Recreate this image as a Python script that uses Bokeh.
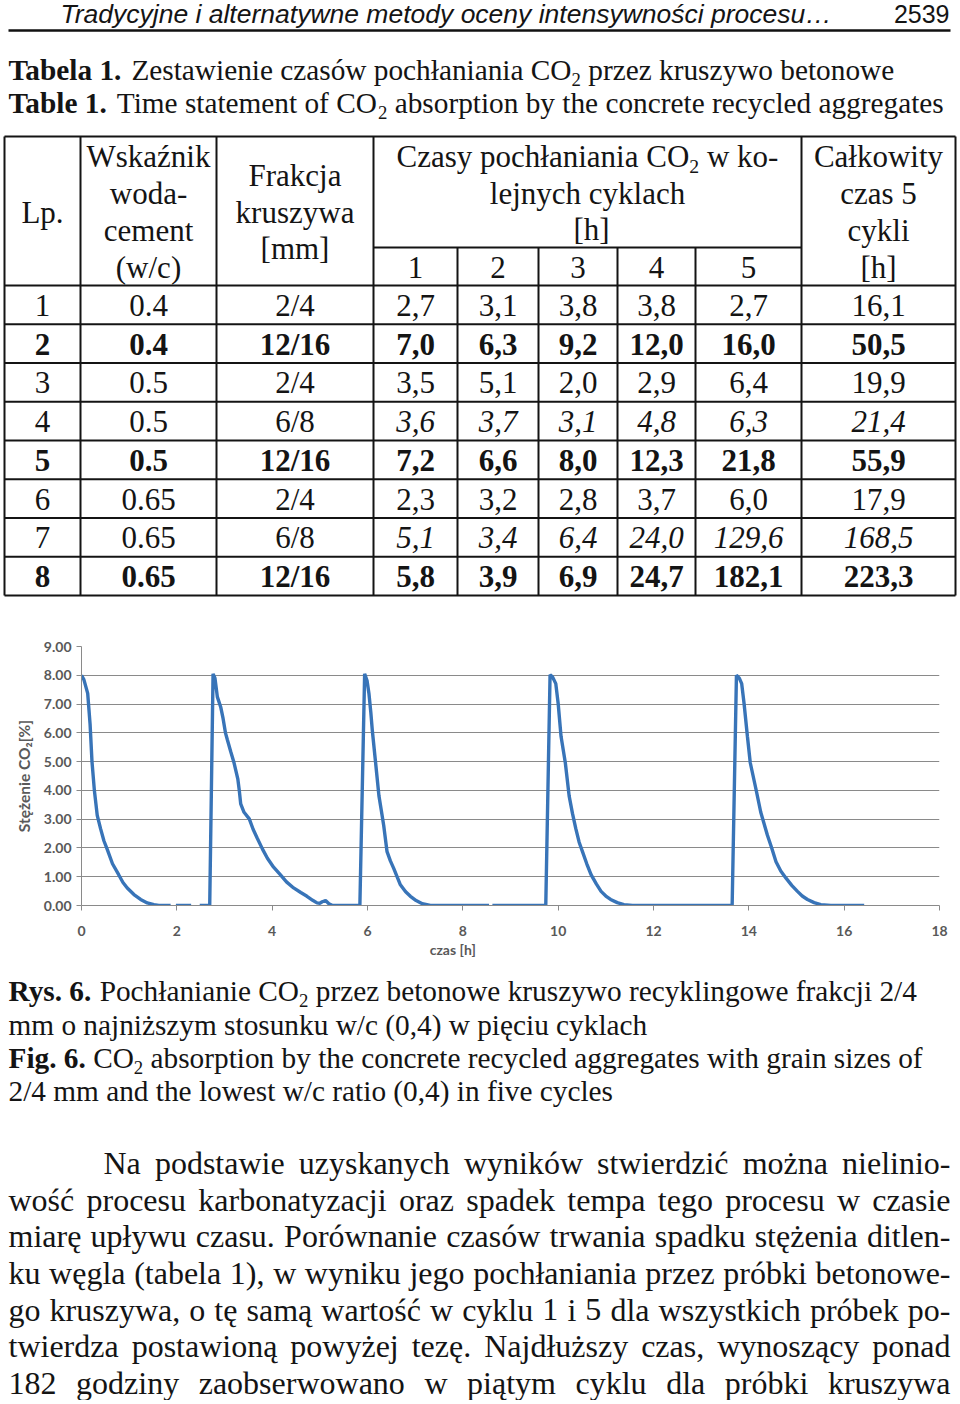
import math
from bokeh.plotting import figure
from bokeh.models import Range1d, FixedTicker, NumeralTickFormatter, ColumnDataSource
from bokeh.layouts import column
from bokeh.embed import file_html
from bokeh.resources import INLINE

NAN = float("nan")

# ---------------- chart data ----------------
time_h = [0.00, 0.05, 0.13, 0.18, 0.22, 0.27, 0.33, 0.40, 0.47, 0.54, 0.65, 0.78, 0.87, 0.96,
          1.10, 1.24, 1.38, 1.52, 1.62, 1.87, NAN, 1.98, 2.30, NAN, 2.48, 2.66, 2.69,
          2.76, 2.80, 2.85, 2.92, 2.97, 3.02, 3.06, 3.13, 3.20, 3.28, 3.31, 3.34, 3.41, 3.52,
          3.60, 3.69, 3.80, 3.90, 4.03, 4.17, 4.30, 4.45, 4.60, 4.73, 4.85, 4.94, 5.00, 5.05,
          5.12, 5.19, 5.27, 5.84,
          5.94, 5.99, 6.03, 6.07, 6.10, 6.17, 6.24, 6.29, 6.34, 6.41, 6.48, 6.55, 6.62, 6.69,
          6.80, 6.90, 7.02, 7.15, 7.32, 8.55, NAN, 8.62, 9.74,
          9.83, 9.88, 9.95, 10.00, 10.06, 10.15, 10.23, 10.30, 10.37, 10.44, 10.51, 10.60,
          10.69, 10.80, 10.90, 11.00, 11.10, 11.24, 11.38, 11.56, 13.65,
          13.74, 13.80, 13.85, 13.90, 13.97, 14.03, 14.09, 14.15, 14.25, 14.39, 14.48, 14.57,
          14.67, 14.78, 14.90, 15.02, 15.12, 15.23, 15.37, 15.51, 15.72, 16.42]
co2_pct = [8.00, 7.85, 7.37, 6.30, 5.00, 4.00, 3.13, 2.67, 2.25, 1.95, 1.45, 1.07, 0.80, 0.61,
           0.38, 0.21, 0.09, 0.03, 0.00, 0.00, NAN, 0.00, 0.00, NAN, 0.00, 0.00, 0.00,
           8.05, 7.90, 7.25, 6.90, 6.50, 6.00, 5.76, 5.35, 4.96, 4.39, 4.00, 3.53, 3.24, 3.01,
           2.65, 2.33, 1.95, 1.64, 1.33, 1.07, 0.82, 0.61, 0.45, 0.32, 0.18, 0.09, 0.08, 0.13,
           0.17, 0.06, 0.00, 0.00,
           8.05, 7.82, 7.37, 6.70, 6.10, 4.96, 3.81, 3.30, 2.78, 1.87, 1.55, 1.29, 1.00, 0.72,
           0.48, 0.32, 0.17, 0.06, 0.00, 0.00, NAN, 0.00, 0.00,
           8.02, 7.95, 7.71, 7.02, 5.88, 4.96, 3.81, 3.20, 2.67, 2.20, 1.87, 1.45,
           1.07, 0.75, 0.49, 0.33, 0.21, 0.10, 0.03, 0.00, 0.00,
           8.00, 7.90, 7.71, 7.02, 5.88, 4.96, 4.50, 4.04, 3.24, 2.44, 2.00, 1.52,
           1.20, 0.95, 0.70, 0.49, 0.33, 0.21, 0.10, 0.03, 0.00, 0.00]
x_ticks = [0, 2, 4, 6, 8, 10, 12, 14, 16, 18]
y_ticks = [0, 1, 2, 3, 4, 5, 6, 7, 8, 9]
x_title = "czas [h]"
y_title = "Stężenie CO₂[%]"

# ---------------- table data ----------------
table_lp = ["1", "2", "3", "4", "5", "6", "7", "8"]
table_wc = ["0.4", "0.4", "0.5", "0.5", "0.5", "0.65", "0.65", "0.65"]
table_frac = ["2/4", "12/16", "2/4", "6/8", "12/16", "2/4", "6/8", "12/16"]
cycle1 = ["2,7", "7,0", "3,5", "3,6", "7,2", "2,3", "5,1", "5,8"]
cycle2 = ["3,1", "6,3", "5,1", "3,7", "6,6", "3,2", "3,4", "3,9"]
cycle3 = ["3,8", "9,2", "2,0", "3,1", "8,0", "2,8", "6,4", "6,9"]
cycle4 = ["3,8", "12,0", "2,9", "4,8", "12,3", "3,7", "24,0", "24,7"]
cycle5 = ["2,7", "16,0", "6,4", "6,3", "21,8", "6,0", "129,6", "182,1"]
total5 = ["16,1", "50,5", "19,9", "21,4", "55,9", "17,9", "168,5", "223,3"]
bold_rows = [1, 4, 7]
italic_rows = [3, 6]

# ---------------- font metrics (Times / Liberation Serif) ----------------
TR = {' ': 250, 'a': 444, 'b': 500, 'c': 444, 'd': 500, 'e': 444, 'f': 333, 'g': 500, 'h': 500,
      'i': 278, 'j': 278, 'k': 500, 'l': 278, 'm': 778, 'n': 500, 'o': 500, 'p': 500, 'q': 500,
      'r': 333, 's': 389, 't': 278, 'u': 500, 'v': 500, 'w': 722, 'x': 500, 'y': 500, 'z': 444,
      'A': 722, 'B': 667, 'C': 667, 'D': 722, 'E': 611, 'F': 556, 'G': 722, 'H': 722, 'I': 333,
      'J': 389, 'K': 722, 'L': 611, 'M': 889, 'N': 722, 'O': 722, 'P': 556, 'Q': 722, 'R': 667,
      'S': 556, 'T': 611, 'U': 722, 'V': 722, 'W': 944, 'X': 722, 'Y': 722, 'Z': 611,
      '.': 250, ',': 250, '-': 333, '(': 333, ')': 333, '/': 278, '[': 333, ']': 333, ':': 278,
      'ą': 444, 'ć': 444, 'ę': 444, 'ł': 278, 'ń': 500, 'ó': 500, 'ś': 389, 'ź': 444, 'ż': 444}
TB = {' ': 250, 'T': 667, 'a': 500, 'b': 556, 'e': 444, 'l': 278, 'R': 722, 'y': 500, 's': 389,
      'F': 611, 'i': 278, 'g': 500, '.': 250}
BASE_SHIFT = 0.33  # rendered baseline sits this many em below the given y


def seg_width(s, size, bold=False):
    tab = TB if bold else TR
    return sum(tab.get(ch, TR.get(ch, 500)) for ch in s) * size / 1000.0


def new_items():
    return dict(x=[], y=[], text=[], font=[], size=[], style=[])


def add(items, x, y, text, size, style="normal", font="Liberation Serif"):
    items["x"].append(x)
    items["y"].append(y - BASE_SHIFT * size)
    items["text"].append(text)
    items["font"].append(font)
    items["size"].append("%.1fpx" % size)
    items["style"].append(style)


def rich(items, segs, x, y, size, align="left"):
    parts = []
    for txt, kind in segs:
        if kind == "sub":
            s, bold, dy = size * 0.64, False, size * 0.2
        else:
            s, bold, dy = size, kind == "b", 0
        parts.append((txt, s, bold, dy, seg_width(txt, s, bold)))
    tot = sum(p[4] for p in parts)
    x0 = x - tot / 2 if align == "center" else x
    for txt, s, bold, dy, w in parts:
        lead = len(txt) - len(txt.lstrip(" "))
        xs = x0 + lead * 250 * s / 1000.0
        add(items, xs, y + dy, txt.strip(" "), s, "bold" if bold else "normal")
        x0 += w


def justify(items, line, y, left, right, size):
    words = line.split()
    ws = [seg_width(w, size) for w in words]
    gap = (right - left - sum(ws)) / (len(words) - 1)
    x = left
    for w, wd in zip(words, ws):
        add(items, x, y, w, size)
        x += wd + gap


W = 958


def no_align(p):
    if "frame_align" in type(p).properties():
        p.frame_align = False


def text_fig(height, y_top):
    p = figure(width=W, height=height, x_range=Range1d(0, W),
               y_range=Range1d(y_top + height, y_top), x_axis_type=None, y_axis_type=None,
               min_border=0, toolbar_location=None, output_backend="svg")
    p.outline_line_color = None
    p.grid.visible = False
    no_align(p)
    return p


def draw(p, items, align):
    p.text(x="x", y="y", text="text", source=ColumnDataSource(items), text_font="font",
           text_font_size="size", text_font_style="style", text_align=align,
           text_baseline="alphabetic", text_color="#141414")


# ================= top: header + table =================
top = text_fig(630, 0)
left_items, center_items, right_items = new_items(), new_items(), new_items()

add(left_items, 60, 22, "Tradycyjne i alternatywne metody oceny intensywności procesu…", 26.5,
    "italic", "Liberation Sans")
add(right_items, 949, 22, "2539", 25, "normal", "Liberation Sans")
top.segment(x0=[8], y0=[30], x1=[950], y1=[30], line_color="#111111", line_width=2.5)

rich(left_items, [("Tabela 1.", "b"), (" Zestawienie czasów pochłaniania CO", "r"), ("2", "sub"),
                  (" przez kruszywo betonowe", "r")], 8, 79, 29.3)
rich(left_items, [("Table 1.", "b"), (" Time statement of CO", "r"), ("2", "sub"),
                  (" absorption by the concrete recycled aggregates", "r")], 8, 112, 29.3)

col_x = [4, 80, 216, 373, 457, 538, 617, 695, 801, 955]
cx = [(col_x[i] + col_x[i + 1]) / 2 for i in range(9)]
t_top, t_sub, t_head = 136, 247, 285
row_h = 38.75
row_y = [t_head + k * row_h for k in range(9)]

x0s, y0s, x1s, y1s = [], [], [], []
for i, x in enumerate(col_x):
    x0s.append(x); x1s.append(x)
    y0s.append(t_sub if 4 <= i <= 7 else t_top); y1s.append(row_y[-1])
for y in [t_top] + row_y:
    x0s.append(col_x[0]); x1s.append(col_x[-1]); y0s.append(y); y1s.append(y)
x0s.append(373); x1s.append(801); y0s.append(t_sub); y1s.append(t_sub)
top.segment(x0=x0s, y0=y0s, x1=x1s, y1=y1s, line_color="#141414", line_width=2)

fs = 31
add(center_items, cx[0], 222, "Lp.", fs)
for txt, yy in [("Wskaźnik", 166), ("woda-", 203), ("cement", 240), ("(w/c)", 277)]:
    add(center_items, cx[1], yy, txt, fs)
for txt, yy in [("Frakcja", 185), ("kruszywa", 222), ("[mm]", 258)]:
    add(center_items, cx[2], yy, txt, fs)
rich(left_items, [("Czasy pochłaniania CO", "r"), ("2", "sub"), (" w ko-", "r")], 587, 166, fs,
     "center")
add(center_items, 587, 203, "lejnych cyklach", fs)
add(center_items, 591, 239, "[h]", fs)
for i in range(5):
    add(center_items, cx[3 + i], 277, str(i + 1), fs)
for txt, yy in [("Całkowity", 166), ("czas 5", 203), ("cykli", 240), ("[h]", 277)]:
    add(center_items, cx[8], yy, txt, fs)

cols = [table_lp, table_wc, table_frac, cycle1, cycle2, cycle3, cycle4, cycle5, total5]
for r in range(8):
    by = row_y[r] + 30
    for c, colvals in enumerate(cols):
        if r in bold_rows:
            st = "bold"
        elif r in italic_rows and c >= 3:
            st = "italic"
        else:
            st = "normal"
        add(center_items, cx[c], by, colvals[r], fs, st)

draw(top, left_items, "left")
draw(top, center_items, "center")
draw(top, right_items, "right")

# ================= middle: chart =================
chart = figure(width=W, height=330, x_range=Range1d(0, 18), y_range=Range1d(0, 9),
               output_backend="svg", toolbar_location=None,
               min_border_left=81, min_border_right=W - 939, min_border_top=16,
               min_border_bottom=52)
no_align(chart)
chart.line(time_h, co2_pct, line_color="#3874B8", line_width=3.4)
chart.outline_line_color = None
chart.xgrid.visible = False
chart.ygrid.grid_line_color = "#8A8A8A"
chart.ygrid.grid_line_width = 1
chart.xaxis.ticker = FixedTicker(ticks=x_ticks)
chart.yaxis.ticker = FixedTicker(ticks=y_ticks)
chart.yaxis.formatter = NumeralTickFormatter(format="0.00")
for ax in (chart.xaxis[0], chart.yaxis[0]):
    ax.axis_line_color = "#8A8A8A"
    ax.major_tick_line_color = "#8A8A8A"
    ax.major_tick_in = 0
    ax.major_tick_out = 5
    ax.minor_tick_line_color = None
    ax.major_label_text_font = "Lato"
    ax.major_label_text_font_style = "bold"
    ax.major_label_text_font_size = "14px"
    ax.major_label_text_color = "#595959"
    ax.axis_label_text_font = "Lato"
    ax.axis_label_text_font_style = "bold"
    ax.axis_label_text_color = "#595959"
chart.xaxis.major_label_standoff = 15
chart.yaxis.major_label_standoff = 5
chart.yaxis.axis_label = y_title
chart.yaxis.axis_label_text_font_size = "15.5px"
chart.yaxis.axis_label_standoff = 8
# em spaces shift the visible title left of the frame centre, as in the original
chart.xaxis.axis_label = x_title + "\u2003" * 11
chart.xaxis.axis_label_text_font_size = "14px"
chart.xaxis.axis_label_standoff = 2

# ================= bottom: caption + paragraph =================
bottom = text_fig(440, 960)
b_items = new_items()
cs = 29.3
rich(b_items, [("Rys. 6.", "b"), (" Pochłanianie CO", "r"), ("2", "sub"),
               (" przez betonowe kruszywo recyklingowe frakcji 2/4", "r")], 8, 1000, cs)
rich(b_items, [("mm o najniższym stosunku w/c (0,4) w pięciu cyklach", "r")], 8, 1034, cs)
rich(b_items, [("Fig. 6.", "b"), (" CO", "r"), ("2", "sub"),
               (" absorption by the concrete recycled aggregates with grain sizes of", "r")],
     8, 1067, cs)
rich(b_items, [("2/4 mm and the lowest w/c ratio (0,4) in five cycles", "r")], 8, 1100, cs)

para = [
    "Na podstawie uzyskanych wyników stwierdzić można nielinio-",
    "wość procesu karbonatyzacji oraz spadek tempa tego procesu w czasie",
    "miarę upływu czasu. Porównanie czasów trwania spadku stężenia ditlen-",
    "ku węgla (tabela 1), w wyniku jego pochłaniania przez próbki betonowe-",
    "go kruszywa, o tę samą wartość w cyklu 1 i 5 dla wszystkich próbek po-",
    "twierdza postawioną powyżej tezę. Najdłuższy czas, wynoszący ponad",
    "182 godziny zaobserwowano w piątym cyklu dla próbki kruszywa",
]
ps = 32
for k, line in enumerate(para):
    justify(b_items, line, 1173 + k * 36.7, 103 if k == 0 else 8, 950, ps)
draw(bottom, b_items, "left")

layout = column(top, chart, bottom, spacing=0)
open("out.html", "w").write(file_html(layout, INLINE))
